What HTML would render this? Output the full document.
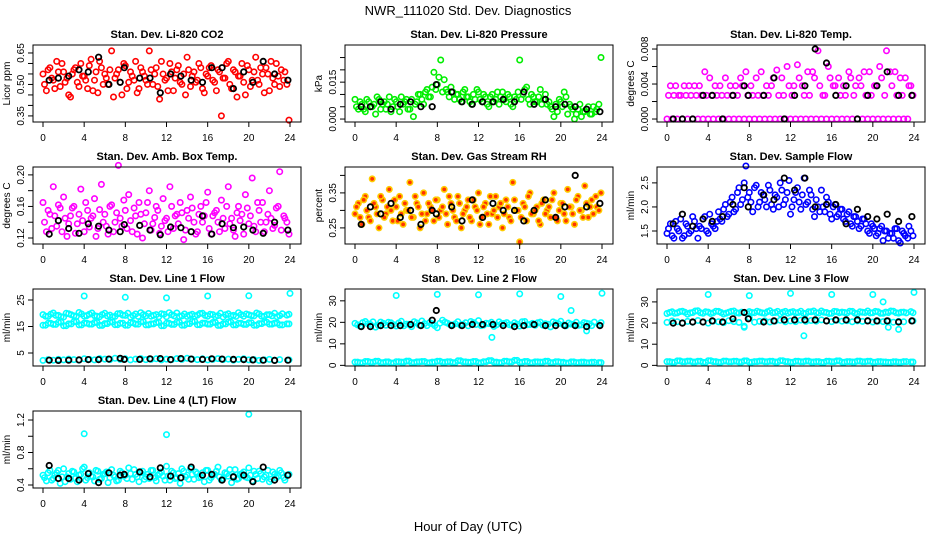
<!DOCTYPE html>
<html><head><meta charset="utf-8">
<style>
html,body{margin:0;padding:0;background:#fff;}
svg{display:block;font-family:"Liberation Sans",Arial,sans-serif;}
</style></head>
<body>
<svg id="chart" width="936" height="540" viewBox="0 0 936 540" xmlns="http://www.w3.org/2000/svg">
<rect width="936" height="540" fill="#fff"/>
<text x="468" y="15" text-anchor="middle" font-size="13">NWR_111020 Std. Dev. Diagnostics</text>
<text x="468" y="531" text-anchor="middle" font-size="13">Hour of Day (UTC)</text>
</svg>
<script>
const hours72=[0,0.33,0.67,1,1.33,1.67,2,2.33,2.67,3,3.33,3.67,4,4.33,4.67,5,5.33,5.67,6,6.33,6.67,7,7.33,7.67,8,8.33,8.67,9,9.33,9.67,10,10.33,10.67,11,11.33,11.67,12,12.33,12.67,13,13.33,13.67,14,14.33,14.67,15,15.33,15.67,16,16.33,16.67,17,17.33,17.67,18,18.33,18.67,19,19.33,19.67,20,20.33,20.67,21,21.33,21.67,22,22.33,22.67,23,23.5,23.9];
const hours72b=[0.15,0.5,0.85,1.15,1.5,1.85,2.15,2.5,2.85,3.15,3.5,3.85,4.15,4.5,4.85,5.15,5.5,5.85,6.15,6.5,6.85,7.15,7.5,7.85,8.15,8.5,8.85,9.15,9.5,9.85,10.15,10.5,10.85,11.15,11.5,11.85,12.15,12.5,12.85,13.15,13.5,13.85,14.15,14.5,14.85,15.15,15.5,15.85,16.15,16.5,16.85,17.15,17.5,17.85,18.15,18.5,18.85,19.15,19.5,19.85,20.15,20.5,20.85,21.15,21.5,21.85,22.15,22.5,22.85,23.15,23.4,23.7];
const hours48=[0,0.5,1,1.5,2,2.5,3,3.5,4,4.5,5,5.5,6,6.5,7,7.5,8,8.5,9,9.5,10,10.5,11,11.5,12,12.5,13,13.5,14,14.5,15,15.5,16,16.5,17,17.5,18,18.5,19,19.5,20,20.5,21,21.5,22,22.5,23,23.9];
const hours48b=[0.25,0.75,1.25,1.75,2.25,2.75,3.25,3.75,4.25,4.75,5.25,5.75,6.25,6.75,7.25,7.75,8.25,8.75,9.25,9.75,10.25,10.75,11.25,11.75,12.25,12.75,13.25,13.75,14.25,14.75,15.25,15.75,16.25,16.75,17.25,17.75,18.25,18.75,19.25,19.75,20.25,20.75,21.25,21.75,22.25,22.75,23.25,23.7];
const hoursBlack=[0.6,1.5,2.5,3.5,4.4,5.4,6.4,7.5,7.9,9.4,10.4,11.4,12.4,13.4,14.4,15.5,16.4,17.4,18.5,19.5,20.4,21.4,22.5,23.8];

const co2Vals=[0.55,0.47,0.58,0.52,0.61,0.49,0.56,0.53,0.44,0.57,0.51,0.60,0.54,0.48,0.62,0.52,0.46,0.58,0.55,0.50,0.66,0.53,0.57,0.45,0.59,0.51,0.54,0.61,0.48,0.56,0.52,0.66,0.50,0.58,0.43,0.55,0.53,0.60,0.47,0.57,0.51,0.55,0.63,0.49,0.56,0.52,0.58,0.46,0.54,0.59,0.51,0.57,0.35,0.53,0.61,0.48,0.56,0.54,0.60,0.45,0.57,0.52,0.63,0.50,0.55,0.58,0.47,0.53,0.60,0.49,0.56,0.33];
const co2ValsB=[0.50,0.57,0.53,0.48,0.56,0.60,0.51,0.45,0.55,0.58,0.49,0.54,0.52,0.59,0.47,0.56,0.61,0.50,0.53,0.57,0.44,0.55,0.51,0.60,0.48,0.56,0.52,0.46,0.58,0.54,0.50,0.57,0.55,0.49,0.61,0.52,0.47,0.56,0.53,0.59,0.50,0.45,0.57,0.54,0.51,0.60,0.48,0.55,0.58,0.52,0.47,0.56,0.53,0.60,0.50,0.57,0.44,0.54,0.51,0.59,0.49,0.56,0.52,0.58,0.46,0.55,0.61,0.50,0.54,0.57,0.52,0.50];
const co2Black=[0.52,0.53,0.54,0.57,0.56,0.63,0.50,0.51,0.58,0.53,0.53,0.46,0.55,0.54,0.52,0.51,0.58,0.58,0.48,0.56,0.51,0.61,0.55,0.52];
const presVals=[0.008,0.004,0.006,0.003,0.007,0.005,0.002,0.008,0.006,0.004,0.009,0.005,0.007,0.003,0.006,0.008,0.004,0.001,0.007,0.010,0.006,0.012,0.009,0.019,0.014,0.024,0.016,0.011,0.013,0.008,0.010,0.007,0.012,0.009,0.006,0.008,0.011,0.007,0.009,0.005,0.010,0.008,0.006,0.011,0.007,0.009,0.005,0.008,0.024,0.010,0.013,0.006,0.009,0.007,0.012,0.008,0.006,0.005,0.001,0.003,0.007,0.011,0.002,0.005,0.000,0.004,0.001,0.003,0.005,0.002,0.004,0.025];
const presValsB=[0.005,0.007,0.004,0.008,0.005,0.006,0.009,0.004,0.007,0.006,0.003,0.008,0.005,0.009,0.007,0.004,0.008,0.006,0.010,0.008,0.011,0.009,0.013,0.012,0.017,0.011,0.012,0.009,0.011,0.010,0.008,0.011,0.009,0.007,0.010,0.012,0.008,0.010,0.006,0.009,0.007,0.011,0.009,0.008,0.010,0.006,0.009,0.011,0.008,0.012,0.008,0.010,0.007,0.009,0.006,0.010,0.007,0.004,0.006,0.008,0.005,0.009,0.006,0.004,0.002,0.006,0.003,0.004,0.002,0.005,0.003,0.006];
const presBlack=[0.005,0.005,0.007,0.004,0.006,0.007,0.005,0.005,0.014,0.011,0.007,0.006,0.007,0.007,0.008,0.007,0.011,0.006,0.008,0.005,0.006,0.005,0.004,0.003];
const tempVals=[0,0.0038,0.0027,0,0.0027,0.0038,0,0.0027,0.0038,0,0.0027,0.0054,0,0.0027,0.0038,0,0.0027,0.0047,0,0.0027,0.0038,0,0.0038,0.0054,0,0.0027,0.0047,0,0.0027,0.0038,0,0.0047,0.0056,0,0.0027,0.0060,0,0.0038,0.0062,0,0.0027,0.0054,0,0.0047,0.0078,0,0.0027,0.0060,0,0.0038,0.0047,0,0.0027,0.0054,0,0.0038,0.0047,0,0.0027,0.0054,0,0.0038,0.0060,0,0.0078,0.0054,0,0.0027,0.0047,0,0.0038,0.0027];
const tempValsB=[0.0027,0,0.0038,0.0027,0,0.0027,0.0038,0,0.0027,0.0038,0,0.0027,0.0047,0,0.0027,0.0038,0,0.0027,0.0038,0,0.0027,0.0047,0,0.0027,0.0038,0,0.0027,0.0054,0,0.0027,0.0038,0,0.0027,0.0047,0,0.0038,0.0027,0,0.0047,0.0038,0,0.0027,0.0054,0,0.0038,0.0027,0,0.0047,0.0038,0,0.0027,0.0038,0,0.0047,0.0027,0,0.0038,0.0054,0,0.0027,0.0038,0,0.0047,0.0027,0,0.0038,0.0054,0,0.0027,0.0047,0,0.0038];
const tempBlack=[0,0,0,0.0027,0.0027,0,0.0027,0.0038,0.0027,0.0027,0.0047,0,0.0027,0.0038,0.0080,0.0064,0.0027,0.0038,0,0.0027,0.0038,0.0054,0.0027,0.0027];
const ambVals=[0.165,0.128,0.150,0.185,0.135,0.158,0.172,0.122,0.148,0.160,0.138,0.182,0.128,0.155,0.145,0.170,0.132,0.188,0.150,0.125,0.162,0.140,0.212,0.135,0.155,0.175,0.128,0.148,0.165,0.120,0.152,0.180,0.138,0.160,0.126,0.170,0.145,0.185,0.132,0.150,0.165,0.118,0.155,0.172,0.140,0.128,0.160,0.148,0.178,0.125,0.152,0.140,0.168,0.132,0.185,0.145,0.122,0.160,0.150,0.175,0.138,0.196,0.128,0.155,0.165,0.140,0.180,0.132,0.158,0.204,0.145,0.125];
const ambValsB=[0.140,0.155,0.132,0.148,0.162,0.128,0.145,0.138,0.158,0.126,0.150,0.142,0.165,0.134,0.148,0.122,0.156,0.140,0.135,0.160,0.128,0.152,0.145,0.168,0.132,0.142,0.158,0.125,0.150,0.138,0.165,0.130,0.146,0.155,0.135,0.142,0.128,0.160,0.148,0.138,0.152,0.130,0.145,0.158,0.125,0.150,0.140,0.165,0.132,0.148,0.155,0.128,0.145,0.160,0.138,0.130,0.152,0.142,0.125,0.158,0.148,0.135,0.165,0.140,0.128,0.150,0.145,0.136,0.160,0.130,0.148,0.140];
const ambBlack=[0.125,0.142,0.132,0.126,0.138,0.135,0.130,0.128,0.137,0.136,0.130,0.124,0.134,0.133,0.128,0.148,0.125,0.138,0.133,0.134,0.130,0.126,0.140,0.130];
const rhVals=[0.29,0.32,0.26,0.34,0.28,0.39,0.31,0.25,0.33,0.29,0.36,0.27,0.31,0.34,0.26,0.30,0.38,0.28,0.32,0.25,0.35,0.29,0.31,0.27,0.33,0.30,0.36,0.26,0.32,0.28,0.34,0.25,0.30,0.33,0.27,0.31,0.35,0.28,0.32,0.26,0.29,0.34,0.31,0.25,0.33,0.28,0.38,0.30,0.21,0.32,0.27,0.35,0.29,0.31,0.26,0.33,0.30,0.28,0.35,0.27,0.32,0.29,0.36,0.31,0.26,0.34,0.30,0.37,0.28,0.33,0.31,0.35];
const rhValsB=[0.31,0.28,0.33,0.30,0.27,0.32,0.29,0.34,0.28,0.31,0.30,0.33,0.27,0.29,0.32,0.30,0.28,0.34,0.31,0.29,0.27,0.32,0.30,0.33,0.28,0.31,0.29,0.34,0.30,0.27,0.32,0.29,0.31,0.28,0.33,0.30,0.26,0.31,0.29,0.34,0.30,0.28,0.32,0.29,0.31,0.27,0.33,0.30,0.28,0.31,0.34,0.29,0.30,0.27,0.32,0.29,0.31,0.33,0.28,0.30,0.32,0.27,0.31,0.29,0.33,0.30,0.28,0.32,0.31,0.29,0.34,0.30];
const rhBlack=[0.26,0.31,0.29,0.32,0.28,0.30,0.26,0.30,0.29,0.31,0.27,0.33,0.28,0.32,0.30,0.30,0.27,0.30,0.33,0.28,0.31,0.40,0.31,0.32];
const flowVals=[1.45,1.65,1.35,1.55,1.75,1.40,1.60,1.50,1.70,1.35,1.55,1.80,1.45,1.65,1.55,1.90,1.70,2.05,1.85,2.20,1.95,2.40,2.15,2.85,2.30,1.90,2.45,2.10,2.25,2.00,2.35,1.95,2.20,2.50,2.05,2.30,1.85,2.15,2.40,1.95,2.60,2.10,2.25,1.80,2.00,2.35,1.90,2.10,1.75,2.05,1.85,1.95,1.70,1.90,1.60,1.80,1.55,1.75,1.65,1.45,1.60,1.40,1.55,1.30,1.50,1.45,1.35,1.55,1.25,1.45,1.60,1.40];
const flowValsB=[1.55,1.40,1.70,1.50,1.35,1.65,1.45,1.80,1.55,1.60,1.75,1.50,1.85,1.60,1.70,1.75,1.95,1.80,2.10,1.90,2.30,2.05,2.50,2.20,2.10,2.40,2.00,2.30,2.15,2.45,2.05,2.25,2.00,2.35,2.15,2.55,2.00,2.30,2.10,2.25,2.05,2.35,1.95,2.15,1.90,2.00,2.20,1.85,2.00,1.80,1.95,1.75,1.85,1.65,1.80,1.70,1.60,1.75,1.50,1.65,1.55,1.45,1.60,1.50,1.35,1.45,1.55,1.30,1.50,1.40,1.35,1.50];
const flowBlack=[1.65,1.85,1.60,1.75,1.70,1.80,2.05,2.40,2.00,2.25,2.15,2.60,2.35,2.60,2.00,2.05,2.05,1.65,1.95,1.80,1.75,1.85,1.70,1.80];
const l1High=[19.5,18.8,20.1,19.2,18.6,19.8,19.0,20.3,18.9,19.6,19.1,18.7,20.0,19.3,18.8,19.9,19.2,18.5,19.7,20.2,19.0,18.9,19.5,19.8,18.7,19.4,20.1,19.0,18.8,19.6,19.3,20.0,18.9,19.5,19.1,18.6,19.8,19.2,20.2,18.9,19.4,19.0,19.7,18.8,19.5,20.0,19.1,19.6];
const l1High2=[18.9,19.6,19.2,18.7,20.0,19.4,18.8,19.7,19.1,20.1,18.9,19.5,19.0,18.6,19.8,19.3,20.0,19.1,18.8,19.5,19.9,19.2,18.7,19.6,20.2,19.0,18.8,19.7,19.3,18.9,19.9,19.2,19.6,18.7,20.0,19.4,19.0,18.8,19.5,19.7,19.1,20.1,18.9,19.4,19.0,18.7,19.8,19.3];
const l1Mid=[15.5,16.2,15.8,16.6,15.3,16.0,16.8,15.6,16.3,15.9,16.5,15.4,16.1,16.7,15.7,16.2,15.5,16.4,15.9,16.8,15.6,16.0,16.5,15.3,16.2,15.8,16.6,15.5,16.1,16.9,15.7,16.3,15.9,16.5,15.4,16.0,16.7,15.6,16.2,15.8,16.4,15.5,16.1,16.6,15.9,16.3,15.6,16.0];
const l1Low=[2.2,2.5,2.3,2.6,2.4,2.7,2.5,2.3,2.8,2.6,2.4,2.9,2.7,2.5,3.0,2.6,2.8,2.4,2.7,2.9,2.5,2.6,2.8,2.4,2.7,2.5,2.9,2.6,3.0,2.7,2.5,2.8,2.4,2.6,2.9,2.5,2.7,2.3,2.6,2.8,2.4,2.5,2.2,2.4,2.6,2.3,2.5,2.4];
const l1OutHours=[4,8,12,16,20,24];
const l1OutVals=[26.5,26,25.8,26.5,26.6,27.5];
const l1Black=[2.3,2.2,2.3,2.4,2.5,2.5,2.7,3.0,2.6,2.6,2.8,2.9,2.5,2.9,2.7,2.6,2.8,2.7,2.6,2.5,2.4,2.3,2.2,2.3];
const l2High=[19.5,18.2,20.4,19.0,17.8,20.1,18.6,19.8,18.3,20.5,19.2,18.0,19.7,20.6,18.5,19.3,17.5,21.0,19.6,18.8,20.3,19.1,18.4,19.9,20.8,18.7,19.4,18.1,20.2,19.5,18.9,19.8,18.3,20.4,19.0,18.6,20.1,19.3,17.9,19.7,20.5,18.4,19.2,20.0,18.8,19.6,18.5,19.9];
const l2High2=[18.8,19.9,19.3,20.2,18.6,19.5,20.0,18.9,19.7,18.4,19.1,20.3,18.7,19.4,19.9,18.5,19.6,20.1,18.9,19.3,18.6,19.8,20.4,19.0,18.5,19.6,20.0,18.8,19.4,19.9,18.6,19.2,20.3,18.9,19.5,19.8,18.7,19.1,20.2,19.4,18.8,19.7,19.0,18.6,19.9,19.3,20.1,18.9];
const l2Low=[1.5,1.2,1.8,1.4,1.9,1.3,1.6,1.1,1.7,1.5,2.0,1.3,1.6,1.8,1.2,1.5,1.9,1.4,1.7,1.3,2.1,1.6,1.4,1.8,1.2,1.7,2.2,1.5,1.3,1.9,1.6,2.3,1.4,1.8,1.2,1.6,1.5,1.9,1.3,1.7,1.4,1.1,1.6,1.3,1.5,1.2,1.4,1.3];
const l2OutHours=[4,8,12,13.3,16,20,21,22.5,24];
const l2OutVals=[32.5,33,32.8,13,33.2,32,25.5,16,33.5];
const l2Black=[18,18,18.5,18.5,18.5,19,18.5,21,25.5,18.5,18.5,19,19,19,18.5,18,18.5,19,18.5,18.5,18.5,18.5,18,18.5];
const l3High=[24.5,25.3,24.8,25.6,24.2,25.0,25.8,24.6,25.2,24.9,25.5,24.3,25.1,25.7,24.7,18.0,25.4,24.9,25.2,24.6,25.8,25.0,24.4,25.5,25.1,24.8,25.6,24.5,25.3,24.9,25.7,25.0,24.6,25.4,25.2,24.8,25.5,24.4,25.1,25.7,24.9,25.3,24.6,25.0,25.6,24.7,25.2,24.9];
const l3High2=[25.0,24.6,25.4,25.1,24.8,25.7,24.9,25.3,24.5,25.6,25.0,24.7,25.5,24.9,25.2,24.6,25.0,25.6,24.8,25.3,24.9,25.5,25.1,24.7,25.4,25.0,24.6,25.3,25.7,24.8,25.1,24.5,25.5,24.9,25.0,25.6,24.7,25.3,25.0,24.8,25.5,24.6,25.2,25.7,24.9,25.1,24.8,25.4];
const l3Mid=[20.3,21.0,20.6,20.1,20.8,20.4,21.2,20.5,20.0,20.9,20.6,20.2,21.1,20.7,20.3,18.5,22.5,20.4,20.8,21.0,20.5,20.9,21.3,20.6,21.0,20.7,21.4,20.8,21.2,20.9,21.5,21.0,20.7,21.3,20.9,21.1,20.6,21.0,20.8,21.2,20.5,20.9,20.7,21.0,20.4,20.8,20.6,21.0];
const l3Low=[1.8,1.5,2.1,1.7,2.0,1.6,1.9,1.4,2.2,1.8,1.5,2.0,1.7,1.9,1.6,2.1,1.5,1.8,2.0,1.7,1.9,1.6,2.2,1.8,1.5,1.9,1.7,2.0,1.6,1.8,1.4,1.9,1.7,2.1,1.5,1.8,1.6,2.0,1.7,1.9,1.5,1.8,1.6,1.4,1.7,1.5,1.8,1.6];
const l3OutHours=[4,8,12,13.3,16,20,21,21.5,22.5,24];
const l3OutVals=[33.5,33,34,14,33.5,33.5,30,18,17,34.5];
const l3Black=[20,20,20.5,20.5,21,20.5,22,25,22,20.5,21,21.5,21.5,21.5,21.5,21,21.5,21.5,21.5,21,21,21,20.5,21];
const l4Vals=[0.52,0.45,0.58,0.48,0.55,0.42,0.60,0.50,0.47,0.56,0.44,0.53,0.62,0.49,0.51,0.45,0.57,0.48,0.54,0.43,0.59,0.50,0.46,0.55,0.52,0.61,0.47,0.53,0.44,0.57,0.50,0.48,0.58,0.45,0.54,0.51,0.63,0.46,0.55,0.49,0.42,0.57,0.52,0.60,0.47,0.54,0.50,0.44,0.58,0.49,0.53,0.62,0.46,0.55,0.51,0.43,0.59,0.48,0.54,0.50,0.61,0.45,0.53,0.57,0.47,0.52,0.44,0.56,0.49,0.58,0.46,0.53];
const l4ValsB=[0.49,0.55,0.46,0.52,0.58,0.50,0.44,0.54,0.57,0.48,0.52,0.60,0.46,0.55,0.50,0.58,0.47,0.53,0.56,0.49,0.52,0.45,0.57,0.51,0.48,0.54,0.59,0.50,0.55,0.47,0.53,0.58,0.49,0.52,0.56,0.46,0.51,0.57,0.48,0.54,0.60,0.50,0.47,0.53,0.56,0.49,0.55,0.58,0.46,0.52,0.57,0.50,0.48,0.54,0.59,0.51,0.47,0.53,0.56,0.49,0.52,0.57,0.48,0.54,0.50,0.58,0.47,0.53,0.51,0.55,0.49,0.52];
const l4OutHours=[4,12,20];
const l4OutVals=[1.03,1.02,1.27];
const l4Black=[0.64,0.48,0.48,0.46,0.54,0.43,0.55,0.52,0.53,0.56,0.50,0.61,0.51,0.49,0.62,0.52,0.53,0.46,0.50,0.52,0.44,0.62,0.46,0.52];
const xTickVals=[0,4,8,12,16,20,24];

const NS="http://www.w3.org/2000/svg";
const svg=document.getElementById('chart');
function mk(tag,attrs,parent){const e=document.createElementNS(NS,tag);for(const k in attrs)e.setAttribute(k,attrs[k]);(parent||svg).appendChild(e);return e;}

const CY='#00ffff';
const panels=[
 {key:'co2',title:'Stan. Dev. Li-820 CO2',ylab:'Licor ppm',col:0,row:0,ymin:0.321,ymax:0.688,ticks:[0.35,0.40,0.45,0.50,0.55,0.60,0.65],labels:['0.35','0.50','0.65'],
  series:[[hours72,co2Vals,'#ff0000'],[hours72b,co2ValsB,'#ff0000'],[hoursBlack,co2Black,'#000']]},
 {key:'pressure',title:'Stan. Dev. Li-820 Pressure',ylab:'kPa',col:1,row:0,ymin:-0.0012,ymax:0.0301,ticks:[0,0.005,0.01,0.015,0.02,0.025],labels:['0.000','0.015'],
  series:[[hours72,presVals,'#00ee00'],[hours72b,presValsB,'#00ee00'],[hoursBlack,presBlack,'#000']]},
 {key:'temp',title:'Stan. Dev. Li-820 Temp.',ylab:'degrees C',col:2,row:0,ymin:-0.00034,ymax:0.00846,ticks:[0,0.002,0.004,0.006,0.008],labels:['0.000','0.004','0.008'],
  series:[[hours72,tempVals,'#ff00ff'],[hours72b,tempValsB,'#ff00ff'],[hoursBlack,tempBlack,'#000']]},
 {key:'amb',title:'Stan. Dev. Amb. Box Temp.',ylab:'degrees C',col:0,row:1,ymin:0.1124,ymax:0.210,ticks:[0.12,0.14,0.16,0.18,0.20],labels:['0.12','0.16','0.20'],
  series:[[hours72,ambVals,'#ff00ff'],[hours72b,ambValsB,'#ff00ff'],[hoursBlack,ambBlack,'#000']]},
 {key:'rh',title:'Stan. Dev. Gas Stream RH',ylab:'percent',col:1,row:1,ymin:0.204,ymax:0.424,ticks:[0.25,0.30,0.35,0.40],labels:['0.25','0.35'],
  series:[[hours72,rhVals,'#ffcc00','#ff3300'],[hours72b,rhValsB,'#ffcc00','#ff3300'],[hoursBlack,rhBlack,'#000']]},
 {key:'sampleflow',title:'Stan. Dev. Sample Flow',ylab:'ml/min',col:2,row:1,ymin:1.23,ymax:2.83,ticks:[1.5,2.0,2.5],labels:['1.5','2.0','2.5'],
  series:[[hours72,flowVals,'#0000ff'],[hours72b,flowValsB,'#0000ff'],[hoursBlack,flowBlack,'#000']]},
 {key:'line1',title:'Stan. Dev. Line 1 Flow',ylab:'ml/min',col:0,row:2,ymin:0.1,ymax:29.15,ticks:[5,15,25],labels:['5','15','25'],
  series:[[hours48,l1High,CY],[hours48b,l1High2,CY],[hours48,l1Mid,CY],[hours48b,l1Mid,CY],[hours48,l1Low,CY],[l1OutHours,l1OutVals,CY],[hoursBlack,l1Black,'#000']]},
 {key:'line2',title:'Stan. Dev. Line 2 Flow',ylab:'ml/min',col:1,row:2,ymin:-0.3,ymax:35.5,ticks:[0,10,20,30],labels:['0','10','20','30'],
  series:[[hours48,l2High,CY],[hours48b,l2High2,CY],[hours48,l2Low,CY],[hours48b,l2Low,CY],[l2OutHours,l2OutVals,CY],[hoursBlack,l2Black,'#000']]},
 {key:'line3',title:'Stan. Dev. Line 3 Flow',ylab:'ml/min',col:2,row:2,ymin:-0.3,ymax:36.1,ticks:[0,10,20,30],labels:['0','10','20','30'],
  series:[[hours48,l3High,CY],[hours48b,l3High2,CY],[hours48,l3Mid,CY],[hours48,l3Low,CY],[hours48b,l3Low,CY],[l3OutHours,l3OutVals,CY],[hoursBlack,l3Black,'#000']]},
 {key:'line4',title:'Stan. Dev. Line 4 (LT) Flow',ylab:'ml/min',col:0,row:3,ymin:0.363,ymax:1.311,ticks:[0.4,0.6,0.8,1.0,1.2],labels:['0.4','0.8','1.2'],
  series:[[hours72,l4Vals,CY],[hours72b,l4ValsB,CY],[l4OutHours,l4OutVals,CY],[hoursBlack,l4Black,'#000']]}
];

panels.forEach(p=>{
  const L=33+312*p.col, R=301+312*p.col, T=45+122*p.row, B=122+122*p.row;
  const x0=43+312*p.col, x24=290+312*p.col;
  const xs=h=>x0+(x24-x0)*h/24;
  const ys=v=>B-(v-p.ymin)/(p.ymax-p.ymin)*(B-T);
  const g=mk('g',{});
  
  
  const t=mk('text',{x:(L+R)/2,y:T-7,'text-anchor':'middle','font-size':11,'font-weight':'bold'},g);
  t.textContent=p.title;
  
  
  const pg=mk('g',{},g);
  
  
  p.series.forEach((s,si)=>{
    const [hx,vals,col,fill]=s;
    const black=col==='#000';
    vals.forEach((v,i)=>{
      const c=mk('circle',{cx:xs(hx[i]).toFixed(1),cy:ys(v).toFixed(1),r:black?2.7:2.7,fill:fill||'none',stroke:col,'stroke-width':black?1.8:1.6},pg);
      
      
    });
  });
  const box=mk('rect',{x:L,y:T,width:R-L,height:B-T,fill:'none',stroke:'#000','stroke-width':1},g);
  
  
  const xa=mk('g',{},g);
  
  
  mk('line',{x1:x0,x2:x24,y1:B,y2:B,stroke:'#000'},xa);
  xTickVals.forEach(h=>{
    mk('line',{x1:xs(h),x2:xs(h),y1:B,y2:B+5,stroke:'#000'},xa);
    const tl=mk('text',{x:xs(h),y:B+19,'text-anchor':'middle','font-size':10},xa);
    tl.textContent=h;
    
    
  });
  const ya=mk('g',{},g);
  
  
  const tk=p.ticks;
  mk('line',{x1:L,x2:L,y1:ys(tk[0]),y2:ys(tk[tk.length-1]),stroke:'#000'},ya);
  tk.forEach(v=>{mk('line',{x1:L-5,x2:L,y1:ys(v),y2:ys(v),stroke:'#000'},ya);});
  p.labels.forEach(lb=>{
    const y=ys(parseFloat(lb)), x=L-9;
    const tl=mk('text',{x:x,y:y,'text-anchor':'middle','font-size':10,transform:`rotate(-90 ${x} ${y})`},ya);
    tl.textContent=lb;
    
    
  });
  const yx=L-23, yy=(T+B)/2;
  const yt=mk('text',{x:yx,y:yy,'text-anchor':'middle','font-size':10,transform:`rotate(-90 ${yx} ${yy})`},g);
  yt.textContent=p.ylab;
  
  
});
</script>
</body></html>
